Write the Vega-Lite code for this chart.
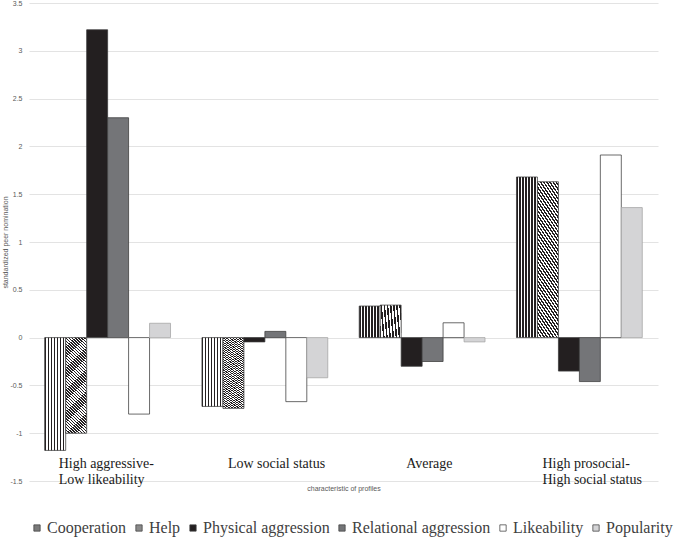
{
  "$schema": "https://vega.github.io/schema/vega-lite/v6.json",
  "width": 629,
  "height": 478,
  "autosize": {"type": "none"},
  "padding": {"left": 29, "top": 3, "right": 27, "bottom": 57},
  "background": "white",
  "config": {"view": {"stroke": null}},
  "data": {
    "values": [
      {"profile": "High aggressive-Low likeability", "measure": "Cooperation", "value": -1.18},
      {"profile": "High aggressive-Low likeability", "measure": "Help", "value": -1.0},
      {"profile": "High aggressive-Low likeability", "measure": "Physical aggression", "value": 3.22},
      {"profile": "High aggressive-Low likeability", "measure": "Relational aggression", "value": 2.3},
      {"profile": "High aggressive-Low likeability", "measure": "Likeability", "value": -0.8},
      {"profile": "High aggressive-Low likeability", "measure": "Popularity", "value": 0.15},
      {"profile": "Low social status", "measure": "Cooperation", "value": -0.72},
      {"profile": "Low social status", "measure": "Help", "value": -0.74},
      {"profile": "Low social status", "measure": "Physical aggression", "value": -0.045},
      {"profile": "Low social status", "measure": "Relational aggression", "value": 0.065},
      {"profile": "Low social status", "measure": "Likeability", "value": -0.67},
      {"profile": "Low social status", "measure": "Popularity", "value": -0.42},
      {"profile": "Average", "measure": "Cooperation", "value": 0.33},
      {"profile": "Average", "measure": "Help", "value": 0.34},
      {"profile": "Average", "measure": "Physical aggression", "value": -0.3},
      {"profile": "Average", "measure": "Relational aggression", "value": -0.25},
      {"profile": "Average", "measure": "Likeability", "value": 0.155},
      {"profile": "Average", "measure": "Popularity", "value": -0.045},
      {"profile": "High prosocial-High social status", "measure": "Cooperation", "value": 1.68},
      {"profile": "High prosocial-High social status", "measure": "Help", "value": 1.63},
      {"profile": "High prosocial-High social status", "measure": "Physical aggression", "value": -0.35},
      {"profile": "High prosocial-High social status", "measure": "Relational aggression", "value": -0.46},
      {"profile": "High prosocial-High social status", "measure": "Likeability", "value": 1.91},
      {"profile": "High prosocial-High social status", "measure": "Popularity", "value": 1.36}
    ]
  },
  "mark": {"type": "bar", "strokeWidth": 0.75},
  "encoding": {
    "x": {
      "field": "profile",
      "type": "nominal",
      "sort": ["High aggressive-Low likeability", "Low social status", "Average", "High prosocial-High social status"],
      "scale": {"paddingInner": 0.2, "paddingOuter": 0.1},
      "title": "characteristic of profiles",
      "axis": {
        "labelExpr": "datum.label == 'High aggressive-Low likeability' ? ['High aggressive-', 'Low likeability'] : datum.label == 'High prosocial-High social status' ? ['High prosocial-', 'High social status'] : datum.label",
        "labelFont": "Liberation Serif",
        "labelFontSize": 14,
        "labelColor": "#1a1a1a",
        "labelAngle": 0,
        "labelAlign": "left",
        "labelOffset": {
          "condition": [
            {"test": "datum.value === 'High aggressive-Low likeability'", "value": -49},
            {"test": "datum.value === 'Low social status'", "value": -37},
            {"test": "datum.value === 'Average'", "value": -16}
          ],
          "value": -37
        },
        "labelPadding": -25,
        "labelBaseline": "top",
        "labelLineHeight": 16,
        "labelLimit": 0,
        "domain": false,
        "ticks": false,
        "grid": false,
        "titleFont": "Liberation Sans",
        "titleFontSize": 7,
        "titleColor": "#595959",
        "titleFontWeight": "normal",
        "titleY": 3,
        "titleBaseline": "top"
      }
    },
    "xOffset": {
      "field": "measure",
      "type": "nominal",
      "sort": ["Cooperation", "Help", "Physical aggression", "Relational aggression", "Likeability", "Popularity"],
      "scale": {"paddingInner": 0, "paddingOuter": 0}
    },
    "y": {
      "field": "value",
      "type": "quantitative",
      "scale": {"domain": [-1.5, 3.5], "nice": false, "zero": false},
      "title": "standardized peer nomination",
      "axis": {
        "values": [-1.5, -1, -0.5, 0, 0.5, 1, 1.5, 2, 2.5, 3, 3.5],
        "labelExpr": "'' + datum.value",
        "labelFont": "Liberation Sans",
        "labelFontSize": 7,
        "labelColor": "#595959",
        "labelPadding": 7,
        "domain": false,
        "ticks": false,
        "gridColor": "#d9d9d9",
        "gridWidth": 0.75,
        "titleFont": "Liberation Sans",
        "titleFontSize": 7,
        "titleColor": "#595959",
        "titleFontWeight": "normal",
        "titleX": -24,
        "titleY": 239,
        "titleBaseline": "middle"
      }
    },
    "fill": {
      "field": "measure",
      "type": "nominal",
      "scale": {
        "domain": ["Cooperation", "Help", "Physical aggression", "Relational aggression", "Likeability", "Popularity"],
        "range": ["#7a7a7a", "#8a8a8a", "#231f20", "#747578", "#ffffff", "#d4d4d6"]
      },
      "condition": [
        {
          "test": "datum.measure === 'Cooperation'",
          "value": {
            "gradient": "linear", "x1": 0, "y1": 0, "x2": 1, "y2": 0,
            "stops": [
              {"offset": 0, "color": "#231f20"}, {"offset": 0.0714, "color": "#231f20"}, {"offset": 0.0714, "color": "#ffffff"}, {"offset": 0.1429, "color": "#ffffff"},
              {"offset": 0.1429, "color": "#231f20"}, {"offset": 0.2143, "color": "#231f20"}, {"offset": 0.2143, "color": "#ffffff"}, {"offset": 0.2857, "color": "#ffffff"},
              {"offset": 0.2857, "color": "#231f20"}, {"offset": 0.3571, "color": "#231f20"}, {"offset": 0.3571, "color": "#ffffff"}, {"offset": 0.4286, "color": "#ffffff"},
              {"offset": 0.4286, "color": "#231f20"}, {"offset": 0.5, "color": "#231f20"}, {"offset": 0.5, "color": "#ffffff"}, {"offset": 0.5714, "color": "#ffffff"},
              {"offset": 0.5714, "color": "#231f20"}, {"offset": 0.6429, "color": "#231f20"}, {"offset": 0.6429, "color": "#ffffff"}, {"offset": 0.7143, "color": "#ffffff"},
              {"offset": 0.7143, "color": "#231f20"}, {"offset": 0.7857, "color": "#231f20"}, {"offset": 0.7857, "color": "#ffffff"}, {"offset": 0.8571, "color": "#ffffff"},
              {"offset": 0.8571, "color": "#231f20"}, {"offset": 0.9286, "color": "#231f20"}, {"offset": 0.9286, "color": "#ffffff"}, {"offset": 1, "color": "#ffffff"}
            ]
          }
        },
        {
          "test": "datum.measure === 'Help'",
          "value": {
            "gradient": "linear", "x1": 0, "y1": 1, "x2": 0.2308, "y2": -0.1538,
            "stops": [
              {"offset": 0, "color": "#231f20"}, {"offset": 0.0125, "color": "#231f20"}, {"offset": 0.0125, "color": "#ffffff"}, {"offset": 0.025, "color": "#ffffff"},
              {"offset": 0.025, "color": "#231f20"}, {"offset": 0.0375, "color": "#231f20"}, {"offset": 0.0375, "color": "#ffffff"}, {"offset": 0.05, "color": "#ffffff"},
              {"offset": 0.05, "color": "#231f20"}, {"offset": 0.0625, "color": "#231f20"}, {"offset": 0.0625, "color": "#ffffff"}, {"offset": 0.075, "color": "#ffffff"},
              {"offset": 0.075, "color": "#231f20"}, {"offset": 0.0875, "color": "#231f20"}, {"offset": 0.0875, "color": "#ffffff"}, {"offset": 0.1, "color": "#ffffff"},
              {"offset": 0.1, "color": "#231f20"}, {"offset": 0.1125, "color": "#231f20"}, {"offset": 0.1125, "color": "#ffffff"}, {"offset": 0.125, "color": "#ffffff"},
              {"offset": 0.125, "color": "#231f20"}, {"offset": 0.1375, "color": "#231f20"}, {"offset": 0.1375, "color": "#ffffff"}, {"offset": 0.15, "color": "#ffffff"},
              {"offset": 0.15, "color": "#231f20"}, {"offset": 0.1625, "color": "#231f20"}, {"offset": 0.1625, "color": "#ffffff"}, {"offset": 0.175, "color": "#ffffff"},
              {"offset": 0.175, "color": "#231f20"}, {"offset": 0.1875, "color": "#231f20"}, {"offset": 0.1875, "color": "#ffffff"}, {"offset": 0.2, "color": "#ffffff"},
              {"offset": 0.2, "color": "#231f20"}, {"offset": 0.2125, "color": "#231f20"}, {"offset": 0.2125, "color": "#ffffff"}, {"offset": 0.225, "color": "#ffffff"},
              {"offset": 0.225, "color": "#231f20"}, {"offset": 0.2375, "color": "#231f20"}, {"offset": 0.2375, "color": "#ffffff"}, {"offset": 0.25, "color": "#ffffff"},
              {"offset": 0.25, "color": "#231f20"}, {"offset": 0.2625, "color": "#231f20"}, {"offset": 0.2625, "color": "#ffffff"}, {"offset": 0.275, "color": "#ffffff"},
              {"offset": 0.275, "color": "#231f20"}, {"offset": 0.2875, "color": "#231f20"}, {"offset": 0.2875, "color": "#ffffff"}, {"offset": 0.3, "color": "#ffffff"},
              {"offset": 0.3, "color": "#231f20"}, {"offset": 0.3125, "color": "#231f20"}, {"offset": 0.3125, "color": "#ffffff"}, {"offset": 0.325, "color": "#ffffff"},
              {"offset": 0.325, "color": "#231f20"}, {"offset": 0.3375, "color": "#231f20"}, {"offset": 0.3375, "color": "#ffffff"}, {"offset": 0.35, "color": "#ffffff"},
              {"offset": 0.35, "color": "#231f20"}, {"offset": 0.3625, "color": "#231f20"}, {"offset": 0.3625, "color": "#ffffff"}, {"offset": 0.375, "color": "#ffffff"},
              {"offset": 0.375, "color": "#231f20"}, {"offset": 0.3875, "color": "#231f20"}, {"offset": 0.3875, "color": "#ffffff"}, {"offset": 0.4, "color": "#ffffff"},
              {"offset": 0.4, "color": "#231f20"}, {"offset": 0.4125, "color": "#231f20"}, {"offset": 0.4125, "color": "#ffffff"}, {"offset": 0.425, "color": "#ffffff"},
              {"offset": 0.425, "color": "#231f20"}, {"offset": 0.4375, "color": "#231f20"}, {"offset": 0.4375, "color": "#ffffff"}, {"offset": 0.45, "color": "#ffffff"},
              {"offset": 0.45, "color": "#231f20"}, {"offset": 0.4625, "color": "#231f20"}, {"offset": 0.4625, "color": "#ffffff"}, {"offset": 0.475, "color": "#ffffff"},
              {"offset": 0.475, "color": "#231f20"}, {"offset": 0.4875, "color": "#231f20"}, {"offset": 0.4875, "color": "#ffffff"}, {"offset": 0.5, "color": "#ffffff"},
              {"offset": 0.5, "color": "#231f20"}, {"offset": 0.5125, "color": "#231f20"}, {"offset": 0.5125, "color": "#ffffff"}, {"offset": 0.525, "color": "#ffffff"},
              {"offset": 0.525, "color": "#231f20"}, {"offset": 0.5375, "color": "#231f20"}, {"offset": 0.5375, "color": "#ffffff"}, {"offset": 0.55, "color": "#ffffff"},
              {"offset": 0.55, "color": "#231f20"}, {"offset": 0.5625, "color": "#231f20"}, {"offset": 0.5625, "color": "#ffffff"}, {"offset": 0.575, "color": "#ffffff"},
              {"offset": 0.575, "color": "#231f20"}, {"offset": 0.5875, "color": "#231f20"}, {"offset": 0.5875, "color": "#ffffff"}, {"offset": 0.6, "color": "#ffffff"},
              {"offset": 0.6, "color": "#231f20"}, {"offset": 0.6125, "color": "#231f20"}, {"offset": 0.6125, "color": "#ffffff"}, {"offset": 0.625, "color": "#ffffff"},
              {"offset": 0.625, "color": "#231f20"}, {"offset": 0.6375, "color": "#231f20"}, {"offset": 0.6375, "color": "#ffffff"}, {"offset": 0.65, "color": "#ffffff"},
              {"offset": 0.65, "color": "#231f20"}, {"offset": 0.6625, "color": "#231f20"}, {"offset": 0.6625, "color": "#ffffff"}, {"offset": 0.675, "color": "#ffffff"},
              {"offset": 0.675, "color": "#231f20"}, {"offset": 0.6875, "color": "#231f20"}, {"offset": 0.6875, "color": "#ffffff"}, {"offset": 0.7, "color": "#ffffff"},
              {"offset": 0.7, "color": "#231f20"}, {"offset": 0.7125, "color": "#231f20"}, {"offset": 0.7125, "color": "#ffffff"}, {"offset": 0.725, "color": "#ffffff"},
              {"offset": 0.725, "color": "#231f20"}, {"offset": 0.7375, "color": "#231f20"}, {"offset": 0.7375, "color": "#ffffff"}, {"offset": 0.75, "color": "#ffffff"},
              {"offset": 0.75, "color": "#231f20"}, {"offset": 0.7625, "color": "#231f20"}, {"offset": 0.7625, "color": "#ffffff"}, {"offset": 0.775, "color": "#ffffff"},
              {"offset": 0.775, "color": "#231f20"}, {"offset": 0.7875, "color": "#231f20"}, {"offset": 0.7875, "color": "#ffffff"}, {"offset": 0.8, "color": "#ffffff"},
              {"offset": 0.8, "color": "#231f20"}, {"offset": 0.8125, "color": "#231f20"}, {"offset": 0.8125, "color": "#ffffff"}, {"offset": 0.825, "color": "#ffffff"},
              {"offset": 0.825, "color": "#231f20"}, {"offset": 0.8375, "color": "#231f20"}, {"offset": 0.8375, "color": "#ffffff"}, {"offset": 0.85, "color": "#ffffff"},
              {"offset": 0.85, "color": "#231f20"}, {"offset": 0.8625, "color": "#231f20"}, {"offset": 0.8625, "color": "#ffffff"}, {"offset": 0.875, "color": "#ffffff"},
              {"offset": 0.875, "color": "#231f20"}, {"offset": 0.8875, "color": "#231f20"}, {"offset": 0.8875, "color": "#ffffff"}, {"offset": 0.9, "color": "#ffffff"},
              {"offset": 0.9, "color": "#231f20"}, {"offset": 0.9125, "color": "#231f20"}, {"offset": 0.9125, "color": "#ffffff"}, {"offset": 0.925, "color": "#ffffff"},
              {"offset": 0.925, "color": "#231f20"}, {"offset": 0.9375, "color": "#231f20"}, {"offset": 0.9375, "color": "#ffffff"}, {"offset": 0.95, "color": "#ffffff"},
              {"offset": 0.95, "color": "#231f20"}, {"offset": 0.9625, "color": "#231f20"}, {"offset": 0.9625, "color": "#ffffff"}, {"offset": 0.975, "color": "#ffffff"},
              {"offset": 0.975, "color": "#231f20"}, {"offset": 0.9875, "color": "#231f20"}, {"offset": 0.9875, "color": "#ffffff"}, {"offset": 1, "color": "#ffffff"}
            ]
          }
        }
      ],
      "legend": {
        "orient": "none",
        "legendX": 0,
        "legendY": 517,
        "direction": "horizontal",
        "title": null,
        "symbolType": "square",
        "symbolSize": 40,
        "symbolStrokeColor": "#404040",
        "symbolStrokeWidth": 0.75,
        "labelFont": "Liberation Serif",
        "labelFontSize": 16,
        "labelColor": "#404040",
        "labelOffset": 2,
        "columnPadding": 4,
        "labelLimit": 0,
        "encode": {
          "symbols": {
            "update": {
              "stroke": {"value": "#404040"},
              "strokeWidth": {"value": 0.75}
            }
          }
        }
      }
    },
    "stroke": {
      "condition": {"test": "datum.measure === 'Popularity'", "value": "#a3a3a3"},
      "value": "#3a3a3a"
    }
  }
}
